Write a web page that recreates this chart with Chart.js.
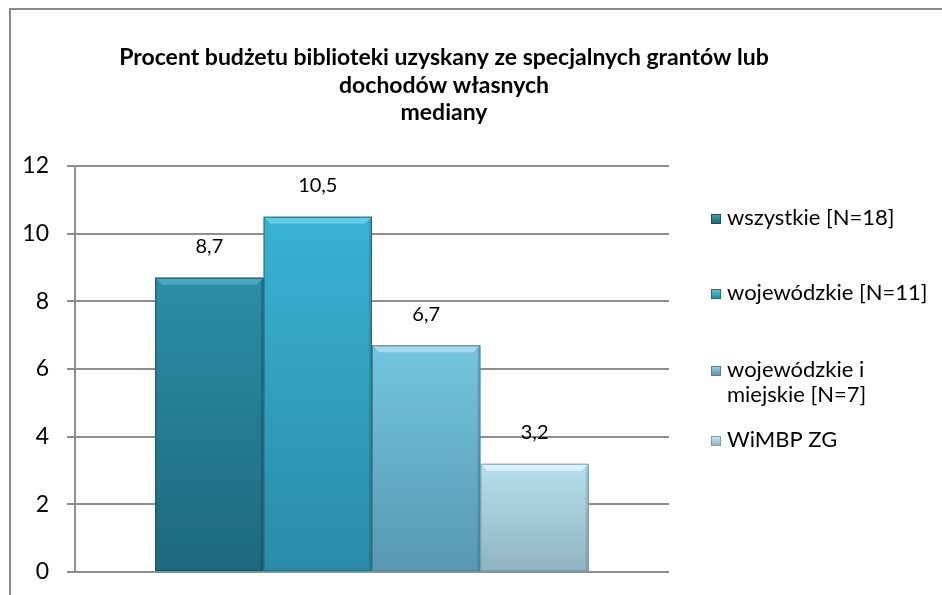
<!DOCTYPE html>
<html>
<head>
<meta charset="utf-8">
<script src="https://cdn.jsdelivr.net/npm/chart.js@4/dist/chart.umd.min.js"></script>
<style>
  html, body { margin: 0; padding: 0; background: #ffffff; }
  #wrap { position: relative; width: 942px; height: 595px; }
</style>
</head>
<body>
<div id="wrap"><canvas id="c" width="942" height="595"></canvas></div>
<script>
// ---- data ----
const categories = [''];
const seriesNames = ['wszystkie [N=18]', 'wojewódzkie [N=11]', 'wojewódzkie i miejskie [N=7]', 'WiMBP ZG'];
const legendLines = [['wszystkie [N=18]'], ['wojewódzkie [N=11]'], ['wojewódzkie i', 'miejskie [N=7]'], ['WiMBP ZG']];
const wszystkie = [8.7];
const wojewodzkie = [10.5];
const wojewodzkieMiejskie = [6.7];
const wimbpZG = [3.2];
const yTickValues = [0, 2, 4, 6, 8, 10, 12];
const titleLines = ['Procent budżetu biblioteki uzyskany ze specjalnych grantów lub', 'dochodów własnych', 'mediany'];

// ---- styles ----
const palette = [
  { top: '#2b8ea8', bottom: '#1d687c', bevel: '#45a9c2', edge: '#17505f' },
  { top: '#38b2d3', bottom: '#2a8ba8', bevel: '#62cbe6', edge: '#1f6f86' },
  { top: '#72c6e0', bottom: '#5898b0', bevel: '#a2dbee', edge: '#4a8398' },
  { top: '#b6dfee', bottom: '#8fb3c2', bevel: '#d9f1f9', edge: '#7a9eae' }
];
const FONT = 'Lato, "Open Sans", sans-serif';

function gradFor(i) {
  return function(ctx) {
    const chart = ctx.chart;
    const ca = chart.chartArea;
    if (!ca) return palette[i].top;
    const ys = chart.scales.y;
    const v = chart.data.datasets[i].data[0];
    const yTop = ys.getPixelForValue(v);
    const yBot = ys.getPixelForValue(0);
    const g = chart.ctx.createLinearGradient(0, yTop, 0, yBot);
    g.addColorStop(0, palette[i].top);
    g.addColorStop(1, palette[i].bottom);
    return g;
  };
}

const seriesData = [wszystkie, wojewodzkie, wojewodzkieMiejskie, wimbpZG];

const bevelPlugin = {
  id: 'bevel',
  afterDatasetsDraw(chart) {
    const ctx = chart.ctx;
    chart.data.datasets.forEach((ds, i) => {
      const meta = chart.getDatasetMeta(i);
      meta.data.forEach(el => {
        const l = el.x - el.width / 2, r = el.x + el.width / 2, t = el.y, b = el.base;
        const bv = 7;
        ctx.save();
        ctx.beginPath();
        ctx.moveTo(l, t); ctx.lineTo(r, t); ctx.lineTo(r - bv, t + bv); ctx.lineTo(l + bv, t + bv); ctx.closePath();
        ctx.fillStyle = palette[i].bevel;
        ctx.fill();
        ctx.beginPath();
        ctx.moveTo(r, t); ctx.lineTo(r, b); ctx.lineTo(r - 3, b); ctx.lineTo(r - 3, t + 3); ctx.closePath();
        ctx.fillStyle = 'rgba(0,0,0,0.12)';
        ctx.fill();
        ctx.strokeStyle = palette[i].edge;
        ctx.lineWidth = 1;
        ctx.strokeRect(l + 0.5, t + 0.5, r - l - 1, b - t - 1);
        ctx.fillStyle = '#000';
        ctx.font = '20px ' + FONT;
        ctx.textAlign = 'center';
        ctx.textBaseline = 'middle';
        ctx.fillText(String(ds.data[0]).replace('.', ','), el.x, t - 31);
        ctx.restore();
      });
    });
  }
};

const decorPlugin = {
  id: 'decor',
  afterDraw(chart) {
    const ctx = chart.ctx;
    ctx.save();
    ctx.strokeStyle = '#8a8a8a';
    ctx.lineWidth = 2;
    ctx.strokeRect(10, 9, 960, 620);
    ctx.fillStyle = '#000';
    ctx.font = 'bold 23px ' + FONT;
    ctx.textAlign = 'center';
    ctx.textBaseline = 'middle';
    const ty = [58, 86, 113];
    titleLines.forEach((s, k) => ctx.fillText(s, 444, ty[k]));
    const itemY = [218, 293, 370, 440];
    ctx.font = '22px ' + FONT;
    ctx.textAlign = 'left';
    chart.data.datasets.forEach((ds, i) => {
      const y0 = itemY[i];
      const g = ctx.createLinearGradient(0, y0 - 5, 0, y0 + 5);
      g.addColorStop(0, palette[i].bevel);
      g.addColorStop(1, palette[i].bottom);
      ctx.fillStyle = g;
      ctx.fillRect(711, y0 - 4, 10, 10);
      ctx.strokeStyle = palette[i].edge;
      ctx.lineWidth = 1;
      ctx.strokeRect(711.5, y0 - 3.5, 9, 9);
      ctx.fillStyle = '#000';
      legendLines[i].forEach((line, k) => ctx.fillText(line, 727, y0 + k * 25));
    });
    ctx.restore();
  }
};

new Chart(document.getElementById('c'), {
  type: 'bar',
  data: {
    labels: categories,
    datasets: seriesData.map((d, i) => ({
      label: seriesNames[i],
      data: d,
      backgroundColor: gradFor(i),
      borderWidth: 0,
      barPercentage: 1.0,
      categoryPercentage: 0.73
    }))
  },
  options: {
    responsive: false,
    animation: false,
    devicePixelRatio: 1,
    layout: { padding: { left: 0, right: 273, top: 166, bottom: 23 } },
    plugins: {
      legend: { display: false },
      title: { display: false },
      tooltip: { enabled: false }
    },
    scales: {
      x: { display: false },
      y: {
        min: 0, max: 12,
        afterFit(scale) { scale.width = 75; scale.paddingTop = 0; scale.paddingBottom = 0; },
        afterBuildTicks(scale) { scale.ticks = yTickValues.map(v => ({ value: v })); },
        ticks: {
          padding: 18,
          color: '#000',
          font: { family: FONT, size: 23 },
          callback: v => String(v)
        },
        grid: { color: '#8e8e8e', lineWidth: 2, tickLength: 8, drawTicks: true },
        border: { display: true, color: '#8e8e8e', width: 2 }
      }
    }
  },
  plugins: [bevelPlugin, decorPlugin]
});
</script>
</body>
</html>
